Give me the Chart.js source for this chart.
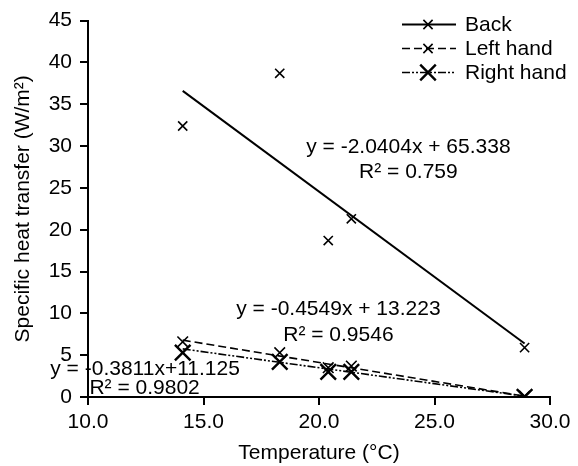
<!DOCTYPE html>
<html>
<head>
<meta charset="utf-8">
<script src="https://cdn.jsdelivr.net/npm/chart.js@4"></script>
<style>
    body { margin: 0; background: #fff; }
    #wrap { width: 578px; height: 466px; }
</style>
</head>
<body>
<div id="wrap"><canvas id="chart" width="578" height="466"></canvas></div>
<script>
// 测量数据
const temps = [14.1, 18.3, 20.4, 21.4, 28.9];
const backValues = [32.4, 38.7, 18.7, 21.3, 5.9];
const leftValues = [6.6, 5.3, 3.5, 3.7, 0.1];
const rightValues = [5.3, 4.2, 3.0, 3.0, 0.0];

// 趋势线 (两端读图)
const fitX = [14.1, 28.9];
const backFit = [36.6, 6.4];
const leftFit = [6.8, 0.1];
const rightFit = [5.75, 0.1];

const xTicks = [10, 15, 20, 25, 30];
const yTicks = [0, 5, 10, 15, 20, 25, 30, 35, 40, 45];

// 公式文字
const notes = [
    { text: 'y = -2.0404x + 65.338', x: 23.87, y: 29.9 },
    { text: 'R² = 0.759', x: 23.87, y: 26.9 },
    { text: 'y = -0.4549x + 13.223', x: 20.84, y: 10.55 },
    { text: 'R² = 0.9546', x: 20.84, y: 7.44 },
    { text: 'y = -0.3811x+11.125', x: 12.47, y: 3.38 },
    { text: 'R² = 0.9802', x: 12.45, y: 1.11 }
];

const FONT = '"Liberation Sans", Arial, sans-serif';
const FSIZE = 21;

const series = [
    { label: 'Back', values: backValues, fit: backFit, dash: [], width: 2, radius: 6.5, pw: 1.6 },
    { label: 'Left hand', values: leftValues, fit: leftFit, dash: [8, 4], width: 1.6, radius: 7.5, pw: 1.6 },
    { label: 'Right hand', values: rightValues, fit: rightFit, dash: [8, 2, 2, 2, 2, 2], width: 1.6, radius: 11, pw: 2.4 }
];

const datasets = [];
series.forEach(s => {
    datasets.push({
        label: s.label + ' fit',
        type: 'line',
        data: fitX.map((x, i) => ({ x: x, y: s.fit[i] })),
        borderColor: '#000',
        borderWidth: s.width,
        borderDash: s.dash,
        pointRadius: 0,
        fill: false
    });
    datasets.push({
        label: s.label,
        data: temps.map((t, i) => ({ x: t, y: s.values[i] })),
        showLine: false,
        pointStyle: 'crossRot',
        pointRadius: s.radius,
        pointBorderWidth: s.pw,
        borderColor: '#000',
        backgroundColor: '#000'
    });
});

// 图例
const legendPlugin = {
    id: 'sideLegend',
    afterDraw(chart) {
        const ctx = chart.ctx;
        ctx.save();
        series.forEach((s, i) => {
            const y = 24.5 + i * 24;
            ctx.strokeStyle = '#000';
            ctx.lineWidth = s.width;
            ctx.setLineDash(s.dash);
            ctx.beginPath();
            ctx.moveTo(402, y);
            ctx.lineTo(456, y);
            ctx.stroke();
            ctx.setLineDash([]);
            const r = (i === 2 ? 11 : 6.5) * 0.707;
            ctx.lineWidth = s.pw;
            ctx.beginPath();
            ctx.moveTo(428 - r, y - r); ctx.lineTo(428 + r, y + r);
            ctx.moveTo(428 - r, y + r); ctx.lineTo(428 + r, y - r);
            ctx.stroke();
            ctx.fillStyle = '#000';
            ctx.font = FSIZE + 'px ' + FONT;
            ctx.textAlign = 'left';
            ctx.textBaseline = 'middle';
            ctx.fillText(s.label, 465, y + 1);
        });
        ctx.restore();
    }
};

// 公式标注
const notePlugin = {
    id: 'notes',
    afterDraw(chart) {
        const ctx = chart.ctx;
        const xs = chart.scales.x, ys = chart.scales.y;
        ctx.save();
        ctx.fillStyle = '#000';
        ctx.font = FSIZE + 'px ' + FONT;
        ctx.textAlign = 'center';
        ctx.textBaseline = 'middle';
        notes.forEach(n => {
            ctx.fillText(n.text, xs.getPixelForValue(n.x), ys.getPixelForValue(n.y));
        });
        ctx.restore();
    }
};

const ctx = document.getElementById('chart').getContext('2d');
new Chart(ctx, {
    type: 'scatter',
    data: { datasets: datasets },
    plugins: [legendPlugin, notePlugin],
    options: {
        responsive: false,
        animation: false,
        layout: { padding: { left: 0, right: 28, top: 20, bottom: 0 } },
        plugins: {
            legend: { display: false },
            tooltip: { enabled: false }
        },
        scales: {
            x: {
                type: 'linear',
                min: 10,
                max: 30,
                afterBuildTicks: axis => { axis.ticks = xTicks.map(v => ({ value: v })); },
                afterFit: axis => { axis.height = 69; },
                ticks: {
                    color: '#000',
                    padding: 5,
                    maxRotation: 0,
                    font: { family: FONT, size: FSIZE },
                    callback: v => v.toFixed(1)
                },
                grid: { drawOnChartArea: false, tickLength: 8, color: '#000', lineWidth: 2 },
                border: { color: '#000', width: 2 },
                title: {
                    display: true,
                    text: 'Temperature (°C)',
                    color: '#000',
                    font: { family: FONT, size: FSIZE },
                    padding: { top: 0, bottom: 0 }
                }
            },
            y: {
                min: 0,
                max: 45,
                afterBuildTicks: axis => { axis.ticks = yTicks.map(v => ({ value: v })); },
                afterFit: axis => { axis.width = 88; },
                ticks: {
                    color: '#000',
                    padding: 8,
                    font: { family: FONT, size: FSIZE }
                },
                grid: { drawOnChartArea: false, tickLength: 8, color: '#000', lineWidth: 2 },
                border: { color: '#000', width: 2 },
                title: {
                    display: true,
                    text: 'Specific heat transfer (W/m²)',
                    color: '#000',
                    font: { family: FONT, size: FSIZE },
                    padding: { top: 11, bottom: 0 }
                }
            }
        }
    }
});
</script>
</body>
</html>
